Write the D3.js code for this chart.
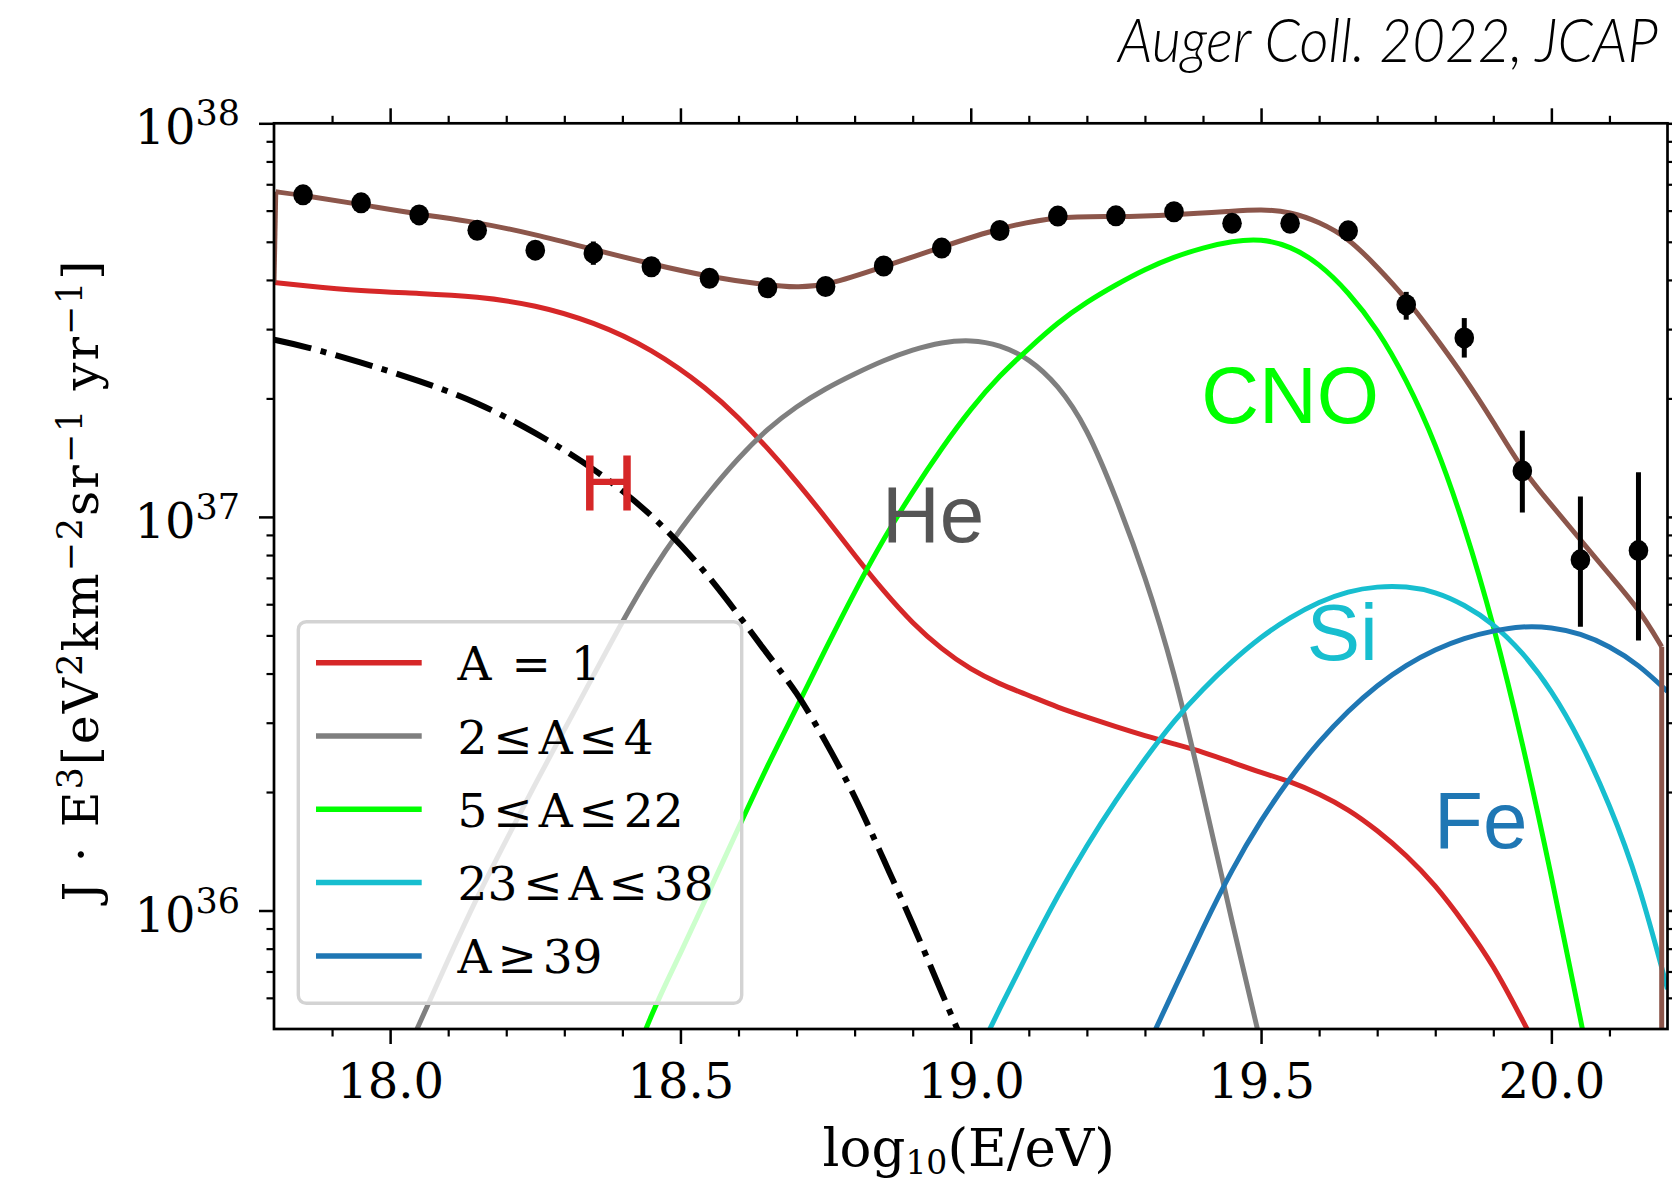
<!DOCTYPE html>
<html>
<head>
<meta charset="utf-8">
<script src="https://cdn.jsdelivr.net/npm/d3@7"></script>
<style>
  html, body { margin: 0; padding: 0; background: #ffffff; }
  svg { display: block; }
</style>
</head>
<body>
<svg id="chart" width="1672" height="1181"></svg>
<script>
// ---------------------------------------------------------------
// Energy spectrum J·E^3 vs log10(E/eV) with mass-group components
// Units: eV^2 km^-2 sr^-1 yr^-1
// ---------------------------------------------------------------

// Measured spectrum points with error-bar edges
const dataLogE = [17.85, 17.95, 18.05, 18.15, 18.25, 18.35, 18.45, 18.55, 18.65, 18.75,
                  18.85, 18.95, 19.05, 19.15, 19.25, 19.35, 19.45, 19.55, 19.65, 19.75,
                  19.85, 19.95, 20.05, 20.15];
const dataFlux = [6.58e37, 6.28e37, 5.85e37, 5.35e37, 4.76e37, 4.68e37, 4.32e37, 4.04e37, 3.82e37, 3.85e37,
                  4.34e37, 4.82e37, 5.34e37, 5.81e37, 5.82e37, 5.96e37, 5.57e37, 5.57e37, 5.33e37, 3.46e37,
                  2.85e37, 1.309e37, 7.78e36, 8.21e36];
const dataLow  = [6.50e37, 6.21e37, 5.79e37, 5.29e37, 4.70e37, 4.37e37, 4.25e37, 3.97e37, 3.76e37, 3.78e37,
                  4.26e37, 4.73e37, 5.24e37, 5.69e37, 5.68e37, 5.80e37, 5.40e37, 5.37e37, 5.10e37, 3.17e37,
                  2.54e37, 1.026e37, 5.26e36, 4.85e36];
const dataHigh = [6.66e37, 6.35e37, 5.91e37, 5.41e37, 4.82e37, 5.01e37, 4.39e37, 4.11e37, 3.88e37, 3.92e37,
                  4.42e37, 4.91e37, 5.44e37, 5.93e37, 5.96e37, 6.12e37, 5.74e37, 5.77e37, 5.56e37, 3.73e37,
                  3.20e37, 1.656e37, 1.126e37, 1.299e37];

// Total model flux (first and last entries are the edge drops)
const totalLogE = [17.800, 17.803, 17.85, 17.95, 18.05, 18.15, 18.25, 18.35, 18.45, 18.55,
                   18.65, 18.70, 18.75, 18.85, 18.95, 19.05, 19.15, 19.25, 19.35, 19.45,
                   19.50, 19.55, 19.60, 19.65, 19.70, 19.75, 19.80, 19.85, 19.90, 19.95,
                   20.00, 20.05, 20.10, 20.15, 20.19, 20.19];
const totalFlux = [3.94e37, 6.70e37, 6.56e37, 6.22e37, 5.87e37, 5.61e37, 5.22e37, 4.78e37, 4.39e37, 4.07e37,
                   3.88e37, 3.83e37, 3.86e37, 4.32e37, 4.85e37, 5.43e37, 5.81e37, 5.78e37, 5.85e37, 5.98e37,
                   6.05e37, 5.96e37, 5.62e37, 5.12e37, 4.32e37, 3.59e37, 2.87e37, 2.27e37, 1.746e37, 1.315e37,
                   1.073e37, 8.75e36, 7.13e36, 5.86e36, 4.68e36, 1.0e34];

// A = 1
const hLogE = [17.80, 17.85, 17.95, 18.05, 18.15, 18.25, 18.35, 18.45, 18.55, 18.60,
               18.65, 18.70, 18.75, 18.80, 18.85, 18.90, 18.95, 19.00, 19.05, 19.10,
               19.15, 19.20, 19.25, 19.30, 19.35, 19.40, 19.45, 19.50, 19.55, 19.60,
               19.65, 19.70, 19.75, 19.80, 19.85, 19.90, 19.95, 20.00, 20.05];
const hFlux = [3.94e37, 3.87e37, 3.75e37, 3.70e37, 3.63e37, 3.46e37, 3.13e37, 2.68e37, 2.10e37, 1.789e37,
               1.497e37, 1.231e37, 9.97e36, 7.99e36, 6.47e36, 5.36e36, 4.61e36, 4.09e36, 3.76e36, 3.52e36,
               3.28e36, 3.10e36, 2.93e36, 2.78e36, 2.65e36, 2.53e36, 2.38e36, 2.24e36, 2.13e36, 1.98e36,
               1.81e36, 1.60e36, 1.385e36, 1.162e36, 9.29e35, 7.28e35, 5.28e35, 3.80e35, 2.63e35];

// 2 <= A <= 4
const heLogE = [18.00, 18.05, 18.10, 18.15, 18.20, 18.25, 18.30, 18.35, 18.40, 18.45,
                18.50, 18.55, 18.60, 18.65, 18.70, 18.75, 18.80, 18.85, 18.90, 18.95,
                19.00, 19.05, 19.10, 19.15, 19.20, 19.25, 19.30, 19.35, 19.40, 19.45, 19.50];
const heFlux = [3.55e35, 5.13e35, 7.51e35, 1.085e36, 1.510e36, 2.10e36, 2.88e36, 3.95e36, 5.43e36, 7.27e36,
                9.32e36, 1.159e37, 1.414e37, 1.676e37, 1.911e37, 2.12e37, 2.31e37, 2.50e37, 2.66e37, 2.78e37,
                2.82e37, 2.74e37, 2.53e37, 2.17e37, 1.690e37, 1.123e37, 7.11e36, 4.09e36, 1.99e36, 9.33e35, 4.57e35];

// 5 <= A <= 22
const cnoLogE = [18.40, 18.45, 18.50, 18.55, 18.60, 18.65, 18.70, 18.75, 18.80, 18.85,
                 18.90, 18.95, 19.00, 19.05, 19.10, 19.15, 19.20, 19.25, 19.30, 19.35,
                 19.40, 19.45, 19.50, 19.55, 19.60, 19.65, 19.70, 19.75, 19.80, 19.85,
                 19.90, 19.95, 20.00, 20.05, 20.10];
const cnoFlux = [3.50e35, 5.50e35, 7.76e35, 1.122e36, 1.622e36, 2.34e36, 3.27e36, 4.62e36, 6.46e36, 8.81e36,
                 1.161e37, 1.496e37, 1.884e37, 2.29e37, 2.68e37, 3.12e37, 3.52e37, 3.89e37, 4.26e37, 4.58e37,
                 4.83e37, 5.02e37, 5.09e37, 4.88e37, 4.41e37, 3.73e37, 3.01e37, 2.24e37, 1.549e37, 9.55e36,
                 5.37e36, 2.69e36, 1.230e36, 5.33e35, 2.24e35];

// 23 <= A <= 38
const siLogE = [19.00, 19.05, 19.10, 19.15, 19.20, 19.25, 19.30, 19.35, 19.40, 19.45,
                19.50, 19.55, 19.60, 19.65, 19.70, 19.75, 19.80, 19.85, 19.90, 19.95,
                20.00, 20.05, 20.10, 20.15, 20.20];
const siFlux = [3.98e35, 5.64e35, 7.91e35, 1.094e36, 1.466e36, 1.908e36, 2.43e36, 3.04e36, 3.66e36, 4.30e36,
                4.96e36, 5.56e36, 6.09e36, 6.48e36, 6.66e36, 6.67e36, 6.46e36, 5.99e36, 5.36e36, 4.54e36,
                3.64e36, 2.71e36, 1.866e36, 1.190e36, 6.31e35];

// A >= 39
const feLogE = [19.30, 19.35, 19.40, 19.45, 19.50, 19.55, 19.60, 19.65, 19.70, 19.75,
                19.80, 19.85, 19.90, 19.95, 20.00, 20.05, 20.10, 20.15, 20.20];
const feFlux = [4.37e35, 6.29e35, 9.05e35, 1.274e36, 1.700e36, 2.18e36, 2.69e36, 3.22e36, 3.74e36, 4.21e36,
                4.61e36, 4.93e36, 5.14e36, 5.28e36, 5.25e36, 5.06e36, 4.70e36, 4.22e36, 3.60e36];

// Dash-dotted component
const ddLogE = [17.80, 17.85, 17.95, 18.05, 18.15, 18.25, 18.35, 18.45, 18.55, 18.65,
                18.70, 18.75, 18.80, 18.85, 18.90, 18.95, 19.00];
const ddFlux = [2.82e37, 2.72e37, 2.47e37, 2.22e37, 1.96e37, 1.64e37, 1.334e37, 1.022e37, 7.13e36, 4.46e36,
                3.61e36, 2.69e36, 1.967e36, 1.345e36, 9.29e35, 6.17e35, 4.17e35];

// Axis ticks and labels
const xMajorTicks = [18.0, 18.5, 19.0, 19.5, 20.0];
const xTickLabels = ["18.0", "18.5", "19.0", "19.5", "20.0"];
const xMinorTicks = [17.9, 18.1, 18.2, 18.3, 18.4, 18.6, 18.7, 18.8, 18.9, 19.1,
                     19.2, 19.3, 19.4, 19.6, 19.7, 19.8, 19.9, 20.1];
const yMajorTicks = [1e36, 1e37, 1e38];
const yTickExponents = ["36", "37", "38"];

// Legend entries
const legendLabels = ["A = 1", "2 \u2264 A \u2264 4", "5 \u2264 A \u2264 22", "23 \u2264 A \u2264 38", "A \u2265 39"];
const legendColors = ["#d62728", "#7f7f7f", "#00ff00", "#17becf", "#1f77b4"];

// ---------------------------------------------------------------
const W = 1672, H = 1181;
const X0 = 274, X1 = 1667.5, Y0 = 123.3, Y1 = 1029;
const serif = "'DejaVu Serif', serif";
const sans = "'Liberation Sans', Arial, sans-serif";

const svg = d3.select("#chart");

const x = d3.scaleLinear().domain([17.8, 20.2]).range([X0, X1]);
const y = d3.scaleLog().domain([5e35, 1e38]).range([Y1, Y0]);

svg.append("rect").attr("width", W).attr("height", H).attr("fill", "#ffffff");

svg.append("defs").append("clipPath").attr("id", "plotClip")
  .append("rect").attr("x", X0).attr("y", Y0).attr("width", X1 - X0).attr("height", Y1 - Y0);

const plot = svg.append("g").attr("clip-path", "url(#plotClip)");

const smooth = d3.line()
  .x(d => x(d[0]))
  .y(d => y(d[1]))
  .curve(d3.curveBasis);
const straight = d3.line()
  .x(d => x(d[0]))
  .y(d => y(d[1]));
const zip = (a, b) => a.map((v, i) => [v, b[i]]);

function drawPath(pts, gen, color, width, dash) {
  const p = plot.append("path")
    .datum(pts)
    .attr("d", gen)
    .attr("fill", "none")
    .attr("stroke", color)
    .attr("stroke-width", width)
    .attr("stroke-linejoin", "round");
  if (dash) p.attr("stroke-dasharray", dash);
  return p;
}
function drawCurve(xs, ys, color, width, dash) {
  return drawPath(zip(xs, ys), smooth, color, width, dash);
}

drawCurve(hLogE, hFlux, "#d62728", 5);
drawCurve(heLogE, heFlux, "#7f7f7f", 5);
drawCurve(cnoLogE, cnoFlux, "#00ff00", 5);
drawCurve(siLogE, siFlux, "#17becf", 5);
drawCurve(feLogE, feFlux, "#1f77b4", 5);
drawCurve(ddLogE, ddFlux, "#000000", 6, "38.4,9.6,6,9.6");

// total: smooth interior, straight drops at both ends
const totalPts = zip(totalLogE, totalFlux);
const nT = totalPts.length;
drawPath(totalPts.slice(1, nT - 1), smooth, "#8c564b", 5);
drawPath(totalPts.slice(0, 2), straight, "#8c564b", 5);
drawPath(totalPts.slice(nT - 2), straight, "#8c564b", 5);

// Error bars and points
const pts = dataLogE.map((e, i) => ({ e, f: dataFlux[i], lo: dataLow[i], hi: dataHigh[i] }));
plot.append("g").selectAll("line").data(pts).join("line")
  .attr("x1", d => x(d.e)).attr("x2", d => x(d.e))
  .attr("y1", d => y(d.lo)).attr("y2", d => y(d.hi))
  .attr("stroke", "#000").attr("stroke-width", 5);
plot.append("g").selectAll("ellipse").data(pts).join("ellipse")
  .attr("cx", d => x(d.e)).attr("cy", d => y(d.f))
  .attr("rx", 9.8).attr("ry", 10.5)
  .attr("fill", "#000");

// Component labels (anchored in data coordinates)
const compLabels = [
  { t: "H",   e: 18.326, f: 1.042e37, c: "#d62728" },
  { t: "He",  e: 18.847, f: 8.63e36,  c: "#555555" },
  { t: "CNO", e: 19.397, f: 1.730e37, c: "#00ff00" },
  { t: "Si",  e: 19.5785, f: 4.33e36, c: "#17becf" },
  { t: "Fe",  e: 19.798, f: 1.440e36, c: "#1f77b4" }
];
svg.append("g").selectAll("text").data(compLabels).join("text")
  .attr("x", d => x(d.e)).attr("y", d => y(d.f))
  .attr("font-family", sans).attr("font-size", 80)
  .attr("fill", d => d.c)
  .text(d => d.t);

// Legend
const lg = svg.append("g");
lg.append("rect")
  .attr("x", 298.3).attr("y", 621.7).attr("width", 443.4).attr("height", 381.6)
  .attr("rx", 8).attr("ry", 8)
  .attr("fill", "#ffffff").attr("fill-opacity", 0.8)
  .attr("stroke", "#d3d3d3").attr("stroke-width", 3.4);
legendLabels.forEach((lab, i) => {
  const yy = 662.7 + i * 73.3;
  lg.append("line").attr("x1", 316).attr("x2", 421.7).attr("y1", yy).attr("y2", yy)
    .attr("stroke", legendColors[i]).attr("stroke-width", 5.5);
  lg.append("text").attr("x", 457.5).attr("y", yy + 17.5)
    .attr("font-family", serif).attr("font-size", 47).attr("fill", "#000")
    .style("word-spacing", i === 0 ? "5px" : "-9px")
    .text(lab);
});

// Axes
function styleTicks(g, w) {
  g.select(".domain").remove();
  g.selectAll(".tick line").attr("stroke", "#000").attr("stroke-width", w);
}
const yMinorTicks = y.ticks().filter(v => yMajorTicks.every(m => Math.abs(v / m - 1) > 1e-6));

// bottom
const gb = svg.append("g").attr("transform", `translate(0,${Y1})`)
  .call(d3.axisBottom(x).tickValues(xMajorTicks).tickSize(15).tickPadding(20)
    .tickFormat((d, i) => xTickLabels[i]));
styleTicks(gb, 2.5);
gb.selectAll(".tick text").attr("font-family", serif).attr("font-size", 48).attr("fill", "#000");
svg.append("g").attr("transform", `translate(0,${Y1})`)
  .call(d3.axisBottom(x).tickValues(xMinorTicks).tickSize(7.5).tickFormat(""))
  .call(g => styleTicks(g, 2.2));
// top
svg.append("g").attr("transform", `translate(0,${Y0})`)
  .call(d3.axisTop(x).tickValues(xMajorTicks).tickSize(15).tickFormat(""))
  .call(g => styleTicks(g, 2.5));
svg.append("g").attr("transform", `translate(0,${Y0})`)
  .call(d3.axisTop(x).tickValues(xMinorTicks).tickSize(7.5).tickFormat(""))
  .call(g => styleTicks(g, 2.2));
// left
const gl = svg.append("g").attr("transform", `translate(${X0},0)`)
  .call(d3.axisLeft(y).tickValues(yMajorTicks).tickSize(15).tickFormat(""));
styleTicks(gl, 2.5);
svg.append("g").attr("transform", `translate(${X0},0)`)
  .call(d3.axisLeft(y).tickValues(yMinorTicks).tickSize(7.5).tickFormat(""))
  .call(g => styleTicks(g, 2.2));
// right
svg.append("g").attr("transform", `translate(${X1},0)`)
  .call(d3.axisRight(y).tickValues(yMajorTicks).tickSize(15).tickFormat(""))
  .call(g => styleTicks(g, 2.5));
svg.append("g").attr("transform", `translate(${X1},0)`)
  .call(d3.axisRight(y).tickValues(yMinorTicks).tickSize(7.5).tickFormat(""))
  .call(g => styleTicks(g, 2.2));

// y tick labels as 10^n
yMajorTicks.forEach((v, i) => {
  const t = svg.append("text")
    .attr("x", 240).attr("y", y(v) + 21)
    .attr("text-anchor", "end")
    .attr("font-family", serif).attr("font-size", 48).attr("fill", "#000");
  t.append("tspan").text("10");
  t.append("tspan").attr("font-size", 35).attr("dy", -19).text(yTickExponents[i]);
});

// frame
svg.append("rect")
  .attr("x", X0).attr("y", Y0).attr("width", X1 - X0).attr("height", Y1 - Y0)
  .attr("fill", "none").attr("stroke", "#000").attr("stroke-width", 2.7);

// x axis title
const xt = svg.append("text")
  .attr("x", (X0 + X1) / 2 - 2).attr("y", 1166)
  .attr("text-anchor", "middle")
  .attr("font-family", serif).attr("font-size", 53).attr("fill", "#000");
xt.append("tspan").text("log");
xt.append("tspan").attr("font-size", 33).attr("dy", 8).text("10");
xt.append("tspan").attr("dy", -8).text("(E/eV)");

// y axis title
const yt = svg.append("text")
  .attr("transform", "translate(98,581) rotate(-90)")
  .attr("text-anchor", "middle")
  .attr("font-family", serif).attr("font-size", 49).attr("fill", "#000")
  .attr("textLength", 641).attr("lengthAdjust", "spacing");
const yParts = [["J \u00b7 E", 0], ["3", 1], ["[eV", 0], ["2", 1], ["km", 0], ["\u22122", 1],
                ["sr", 0], ["\u22121", 1], [" yr", 0], ["\u22121", 1], ["]", 0]];
let raised = false;
yParts.forEach(([s, sup]) => {
  const ts = yt.append("tspan").text(s);
  if (sup) { ts.attr("font-size", 35); if (!raised) { ts.attr("dy", -16); raised = true; } }
  else if (raised) { ts.attr("dy", 16); raised = false; }
});

// citation, condensed to its measured width
const cite = svg.append("g").attr("transform", "translate(1658,62)");
const citeText = cite.append("text")
  .attr("x", 0).attr("y", 0)
  .attr("text-anchor", "end")
  .attr("font-family", "Lato, 'Open Sans', sans-serif")
  .attr("font-style", "italic").attr("font-weight", 300)
  .attr("font-size", 61).attr("fill", "#000")
  .text("Auger Coll. 2022, JCAP");
const natural = citeText.node().getComputedTextLength();
cite.attr("transform", `translate(1658,62) scale(${540 / natural},1)`);
</script>
</body>
</html>
